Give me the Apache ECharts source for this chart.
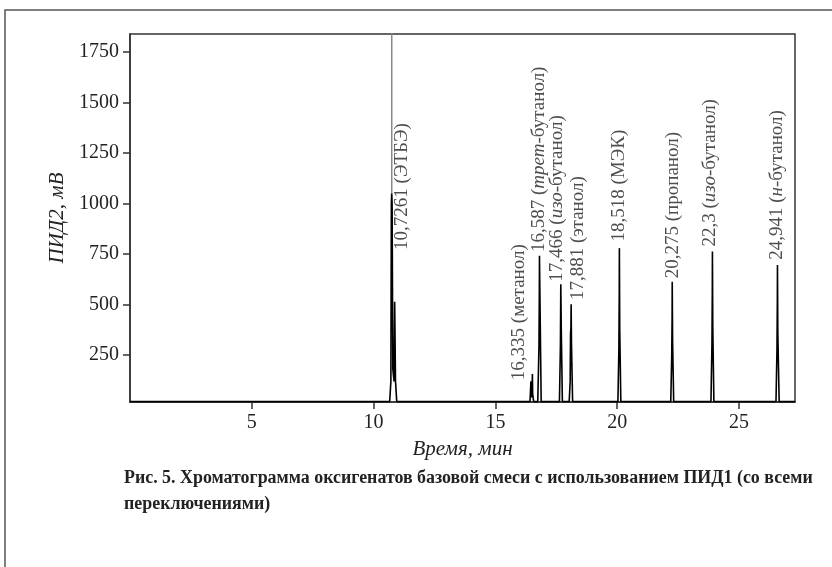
<!DOCTYPE html>
<html>
<head>
<meta charset="utf-8">
<script src="https://cdn.jsdelivr.net/npm/echarts@6/dist/echarts.min.js"></script>
<style>
  html, body { margin: 0; padding: 0; background: #fff; }
  #chart { width: 832px; height: 567px; }
</style>
</head>
<body>
<div id="chart"></div>
<script>
// chromatogram trace (time, min / signal, mV)
var times = [0, 10.66, 10.71, 10.73, 10.745, 10.76, 10.79, 10.84, 10.865, 10.875, 10.90, 10.95,
  16.42, 16.46, 16.49, 16.51, 16.52, 16.53, 16.57,
  16.74, 16.79, 16.805, 16.81, 16.825, 16.88,
  17.63, 17.67, 17.685, 17.69, 17.705, 17.75,
  18.03, 18.07, 18.085, 18.10, 18.11, 18.125, 18.17,
  20.03, 20.07, 20.085, 20.09, 20.105, 20.15,
  22.20, 22.24, 22.255, 22.26, 22.275, 22.32,
  23.85, 23.89, 23.905, 23.91, 23.925, 23.97,
  26.52, 26.56, 26.575, 26.58, 26.595, 26.65, 27.3];
var signal = [20, 20, 120, 1000, 1050, 1000, 180, 120, 514, 514, 120, 20,
  20, 120, 40, 100, 156, 60, 20,
  20, 300, 580, 741, 580, 20,
  20, 300, 600, 608, 380, 20,
  20, 120, 359, 380, 501, 300, 20,
  20, 280, 560, 779, 380, 20,
  20, 250, 440, 613, 320, 20,
  20, 300, 560, 762, 390, 20,
  20, 280, 520, 696, 360, 20, 20];

// ETBE peak above the detector range (drawn grey)
var etbeTopTimes = [10.745, 10.745];
var etbeTopSignal = [1050, 2100];

// peak annotations
var peakNames = [
  '10,7261 (ЭТБЭ)',
  '16,335 (метанол)',
  '16,587 ({i|трет}-бутанол)',
  '17,466 ({i|изо}-бутанол)',
  '17,881 (этанол)',
  '18,518 (МЭК)',
  '20,275 (пропанол)',
  '22,3 ({i|изо}-бутанол)',
  '24,941 ({i|н}-бутанол)'
];
var labelTimes = [11.16, 15.97, 16.80, 17.52, 18.40, 20.09, 22.28, 23.81, 26.57];
var labelValues = [770, 126, 760, 613, 523, 812, 630, 787, 721];

var xTicks = [5, 10, 15, 20, 25];
var yTicks = [250, 500, 750, 1000, 1250, 1500, 1750];

window.onload = function () {
  var chart = echarts.init(document.getElementById('chart'));
  var font = '"Liberation Serif", "DejaVu Serif", serif';

  var trace = [];
  for (var i = 0; i < times.length; i++) {
    trace.push([times[i], signal[i]]);
  }
  var etbeTop = [];
  for (var k = 0; k < etbeTopTimes.length; k++) {
    etbeTop.push([etbeTopTimes[k], etbeTopSignal[k]]);
  }
  var marks = [];
  for (var j = 0; j < peakNames.length; j++) {
    marks.push({ value: [labelTimes[j], labelValues[j]], name: peakNames[j] });
  }

  var option = {
    backgroundColor: '#fff',
    animation: false,
    title: {
      left: 119,
      top: 460,
      text: 'Рис. 5. Хроматограмма оксигенатов базовой смеси с использованием ПИД1 (со всеми\nпереключениями)',
      textStyle: {
        fontFamily: font,
        fontWeight: 'bold',
        fontSize: 17.9,
        lineHeight: 26,
        color: '#222'
      }
    },
    graphic: [{
      type: 'rect',
      shape: { x: 5, y: 10, width: 900, height: 700 },
      style: { fill: 'none', stroke: '#555', lineWidth: 1.5 },
      silent: true
    }],
    grid: {
      left: 130,
      right: 37,
      top: 34,
      bottom: 165,
      show: true,
      borderColor: '#333',
      borderWidth: 1.5
    },
    xAxis: {
      type: 'value',
      min: 0,
      max: 27.3,
      name: 'Время, мин',
      nameLocation: 'middle',
      nameGap: 37,
      nameTextStyle: { fontFamily: font, fontStyle: 'italic', fontSize: 21, color: '#222' },
      splitLine: { show: false },
      axisLine: { lineStyle: { color: '#333', width: 1.5 } },
      axisTick: { customValues: xTicks, length: 7, lineStyle: { color: '#333', width: 1.5 } },
      axisLabel: { customValues: xTicks, margin: 11, fontFamily: font, fontSize: 20, color: '#222' }
    },
    yAxis: {
      type: 'value',
      min: 18,
      max: 1838,
      name: 'ПИД2, мВ',
      nameLocation: 'middle',
      nameGap: 53,
      nameRotate: 90,
      nameTextStyle: { fontFamily: font, fontStyle: 'italic', fontSize: 21, color: '#222' },
      splitLine: { show: false },
      axisLine: { show: true, lineStyle: { color: '#333', width: 1.5 } },
      axisTick: { show: true, customValues: yTicks, length: 7, lineStyle: { color: '#333', width: 1.5 } },
      axisLabel: {
        customValues: yTicks,
        margin: 11,
        fontFamily: font,
        fontSize: 20,
        color: '#222',
        formatter: function (v) { return String(v); }
      }
    },
    series: [
      {
        name: 'ПИД2',
        type: 'line',
        data: trace,
        showSymbol: false,
        clip: true,
        lineStyle: { color: '#000', width: 1.6 }
      },
      {
        name: 'ЭТБЭ',
        type: 'line',
        data: etbeTop,
        showSymbol: false,
        clip: true,
        lineStyle: { color: '#888', width: 1.5 }
      },
      {
        name: 'peaks',
        type: 'scatter',
        data: marks,
        symbolSize: 0,
        label: {
          show: true,
          position: 'inside',
          rotate: 90,
          align: 'left',
          verticalAlign: 'middle',
          formatter: function (p) { return p.name; },
          fontFamily: font,
          fontSize: 19,
          color: '#222',
          rich: {
            i: { fontFamily: font, fontStyle: 'italic', fontSize: 19, color: '#222' }
          }
        }
      }
    ]
  };

  chart.setOption(option);
};
</script>
</body>
</html>
